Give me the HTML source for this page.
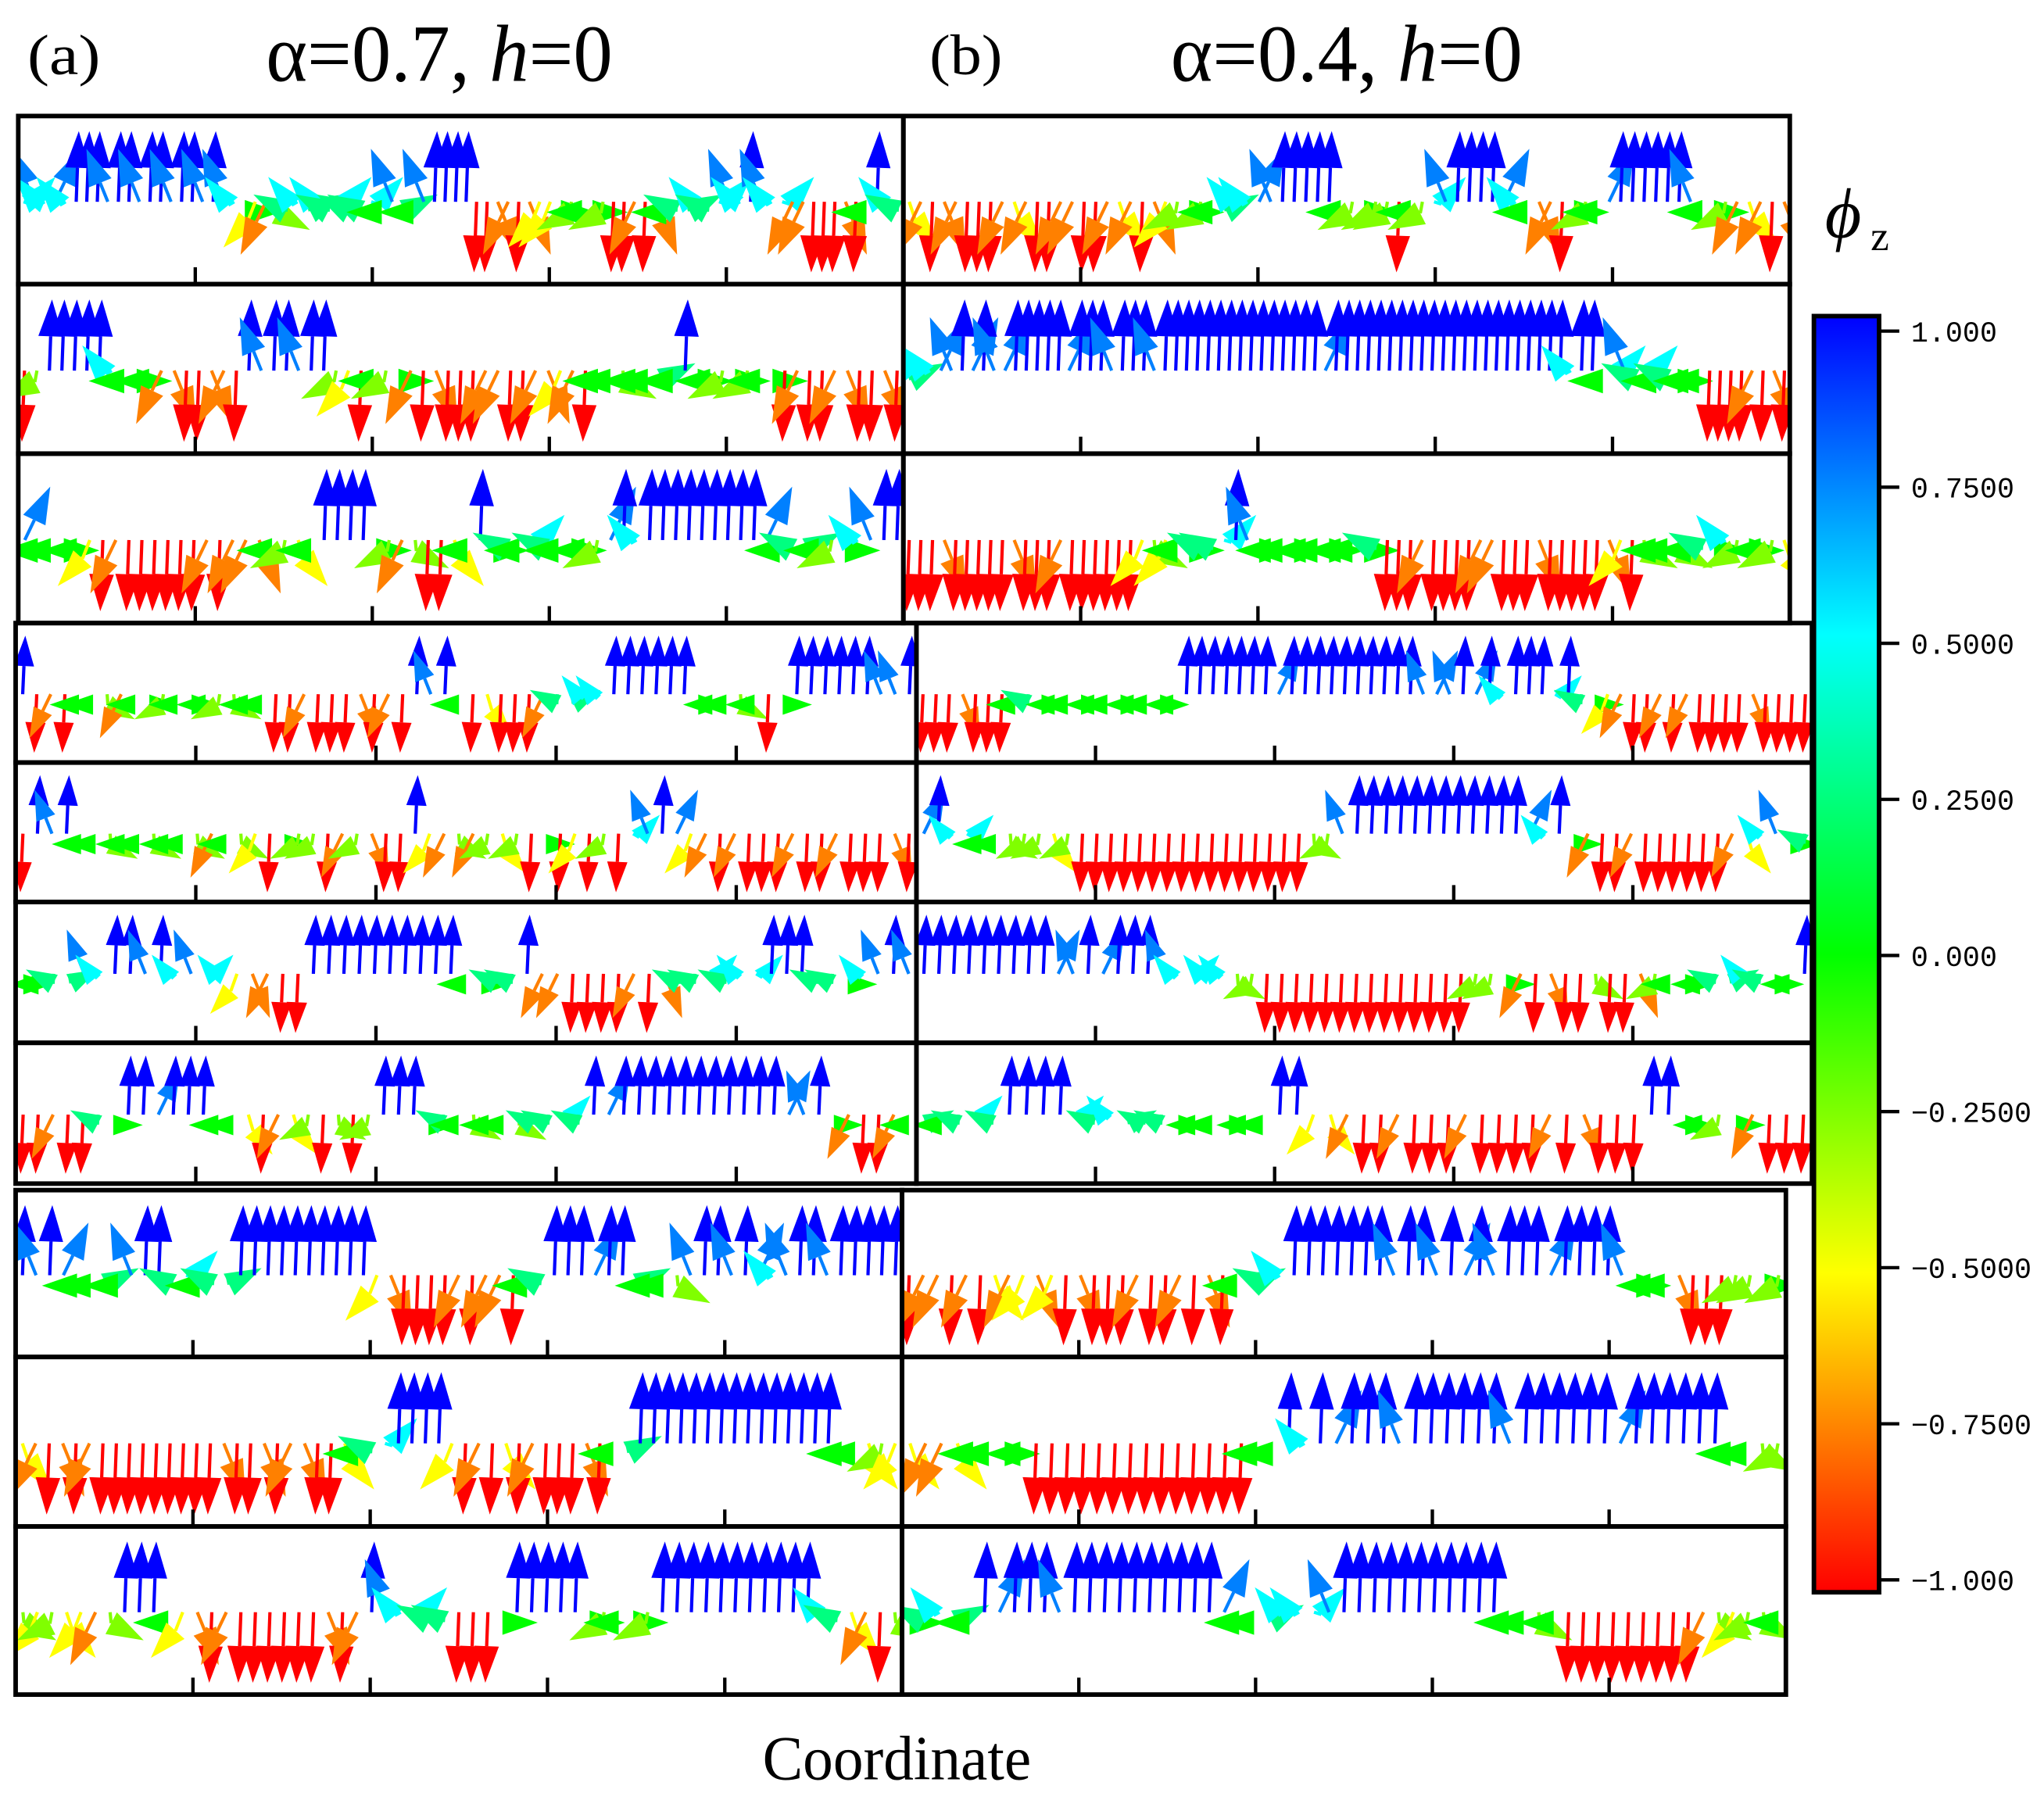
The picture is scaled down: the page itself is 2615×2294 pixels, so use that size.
<!DOCTYPE html>
<html><head><meta charset="utf-8">
<style>
html,body{margin:0;padding:0;background:#fff;}
svg{display:block;}
</style></head>
<body>
<svg id="fig" xmlns="http://www.w3.org/2000/svg" width="2615" height="2294" viewBox="0 0 1568 1375.5" preserveAspectRatio="none">
<defs>
<linearGradient id="jet" x1="0" y1="1" x2="0" y2="0">
<stop offset="0" stop-color="#ff0000"/>
<stop offset="0.25" stop-color="#ffff00"/>
<stop offset="0.5" stop-color="#00ff00"/>
<stop offset="0.75" stop-color="#00ffff"/>
<stop offset="1" stop-color="#0000ff"/>
</linearGradient>
</defs>
<g id="panels"></g>
<text x="21" y="57" font-family="Liberation Serif, serif" font-size="44" textLength="56" lengthAdjust="spacingAndGlyphs">(a)</text>
<text x="204" y="62" font-family="Liberation Serif, serif" font-size="62" textLength="266" lengthAdjust="spacingAndGlyphs">α=0.7, <tspan font-style="italic">h</tspan>=0</text>
<text x="713" y="57" font-family="Liberation Serif, serif" font-size="44" textLength="56" lengthAdjust="spacingAndGlyphs">(b)</text>
<text x="898" y="62" font-family="Liberation Serif, serif" font-size="62" textLength="270" lengthAdjust="spacingAndGlyphs">α=0.4, <tspan font-style="italic">h</tspan>=0</text>
<text x="585" y="1365" font-family="Liberation Serif, serif" font-size="48" textLength="206" lengthAdjust="spacingAndGlyphs">Coordinate</text>
<g>
<text x="1400" y="182" font-family="Liberation Serif, serif" font-size="54" font-style="italic">ϕ</text>
<text x="1435" y="192" font-family="Liberation Serif, serif" font-size="32">z</text>
</g>
<rect x="1391.5" y="242.5" width="50" height="979" fill="url(#jet)" stroke="#000" stroke-width="3.5"/>
<g id="cbticks"></g>
</svg>
<script>
// phi_z per spin, digits 0..8 -> (d-4)/4  (0 = -1 red, 4 = 0 green, 8 = +1 blue)
const spinsLeft = [
 "676768887887887887876421356565655647547888800110122434430010145565676876611000104865",
 "03888886444110011087887883204341010001100112104434454844343440100110010",
 "74444201000000101114324888843130024845465444378688888888874554346788",
 "8010443144344433440010001010878402000155668888884443404888888778",
 "08784434434431432043301310082131323040203067872101000100100010",
 "44557688786766211008888888888445581100001015565668885546787",
 "001005488788844201230303888454344355658788888888888778410014",
 "87874454788564558888888888210000101104588878854437887876788788888",
 "210101000000000100101100245688882010201000104588888888888888844232",
 "3232213888421010000001018766550004888884344388888888888652103"
];
const spinsRight = [
 "2101100012100110012101234345667788888434330436788887641104347888888744312101",
 "56677878778888878887888788888888888888878888888888888888888888688467564544400001010",
 "0001000001000100000023244556874444444444500010000110001000001203443454634432",
 "00010004544444444444888888878888888888777878688868542100101000010000",
 "78664433323000000000000000033788888888888876841001000000126745",
 "888888888778788876666330000000000000033410100300134445565448",
 "54565888865655544444488221001000100001010008844341000",
 "01101021212010001001010455688888887887878788878888744410003343",
 "21124444000000000000004486878887888888788888878888884433",
 "45654878887888888888874456667888888888884434000000000132334"
];
</script>
<script>
const NS = "http://www.w3.org/2000/svg";
const leftX = [[14,693],[14,693],[14,693],[12,703],[12,703],[12,703],[12,703],[12,692],[12,692],[12,692]];
const rightX = [[693,1373],[693,1373],[693,1373],[703,1390],[703,1390],[703,1390],[703,1390],[692,1370],[692,1370],[692,1370]];
const rowY = [[89,218],[218,348],[348,478],[478,585],[585,692],[692,800],[800,908],[913,1041],[1041,1171],[1171,1300]];
const panels = document.getElementById('panels');

function jet(z){
  const t = Math.max(0, Math.min(1, (z + 1) / 2));
  const stops = [[255,0,0],[255,255,0],[0,255,0],[0,255,255],[0,0,255]];
  const s = Math.min(3, Math.floor(t * 4)), f = t * 4 - s;
  const a = stops[s], b = stops[s+1];
  return 'rgb(' + [0,1,2].map(k => Math.round(a[k] + (b[k]-a[k]) * f)).join(',') + ')';
}
function parseSpins(str){
  const out = [];
  for (const ch of str) { if (ch >= '0' && ch <= '8') out.push((+ch - 4) / 4); }
  return out;
}
function drawPanel(xr, yr, str, name){
  const g = document.createElementNS(NS, 'g');
  
  
  const x0 = xr[0], x1 = xr[1], y0 = yr[0], y1 = yr[1];
  const W = x1 - x0, H = y1 - y0;
  const vals = parseSpins(str);
  const n = vals.length;
  const base = y0 + 0.51 * H;
  const L = 0.42 * H;
  const hw = 8 * H / 110, hl = 24 * H / 110;
  const clip = document.createElementNS(NS, 'clipPath');
  clip.setAttribute('id', 'c-' + name);
  const cr = document.createElementNS(NS, 'rect');
  cr.setAttribute('x', x0); cr.setAttribute('y', y0); cr.setAttribute('width', W); cr.setAttribute('height', H);
  clip.appendChild(cr);
  g.appendChild(clip);
  const arrows = document.createElementNS(NS, 'g');
  arrows.setAttribute('clip-path', 'url(#c-' + name + ')');
  
  
  vals.forEach((z, i) => {
    const x = x0 + (i + 0.5) * W / n;
    const sgn = (i % 3 === 0) ? 1 : -1;
    const dx = Math.sqrt(Math.max(0, 1 - z*z)) * L * 0.5 * sgn + z * 2;
    const dy = -z * L;
    const len = Math.hypot(dx, dy) || 1;
    const ux = dx / len, uy = dy / len;
    const tipx = x + dx, tipy = base + dy + (Math.abs(z) < 0.6 ? 8 : 0);
    const hlen = Math.min(hl, Math.max(len, 16));
    const bx = tipx - ux * hlen, by = tipy - uy * hlen;
    const col = jet(z);
    const grp = document.createElementNS(NS, 'g');
    
    
    if (len > hlen) {
      const sh = document.createElementNS(NS, 'line');
      
      
      sh.setAttribute('x1', x); sh.setAttribute('y1', base);
      sh.setAttribute('x2', bx); sh.setAttribute('y2', by);
      sh.setAttribute('stroke', col); sh.setAttribute('stroke-width', 2.5);
      grp.appendChild(sh);
    }
    const px = -uy, py = ux;
    const hd = document.createElementNS(NS, 'polygon');
    
    
    hd.setAttribute('points', `${tipx},${tipy} ${bx + px*hw},${by + py*hw} ${bx - px*hw},${by - py*hw}`);
    hd.setAttribute('fill', col);
    grp.appendChild(hd);
    arrows.appendChild(grp);
  });
  g.appendChild(arrows);
  [0.2,0.4,0.6,0.8].forEach(f => {
    const t = document.createElementNS(NS, 'line');
    
    
    const tx = x0 + f * W;
    t.setAttribute('x1', tx); t.setAttribute('x2', tx);
    t.setAttribute('y1', y1); t.setAttribute('y2', y1 - 13);
    t.setAttribute('stroke', '#000'); t.setAttribute('stroke-width', 2.6);
    g.appendChild(t);
  });
  const r = document.createElementNS(NS, 'rect');
  
  
  r.setAttribute('x', x0); r.setAttribute('y', y0);
  r.setAttribute('width', W); r.setAttribute('height', H);
  r.setAttribute('fill', 'none'); r.setAttribute('stroke', '#000'); r.setAttribute('stroke-width', 3.5);
  g.appendChild(r);
  panels.appendChild(g);
}
for (let k = 0; k < 10; k++) {
  drawPanel(leftX[k], rowY[k], spinsLeft[k], 'panel-a-row' + (k+1));
  drawPanel(rightX[k], rowY[k], spinsRight[k], 'panel-b-row' + (k+1));
}
const cbValues = [1, 0.75, 0.5, 0.25, 0, -0.25, -0.5, -0.75, -1];
const cbLabels = ["1.000", "0.7500", "0.5000", "0.2500", "0.000", "−0.2500", "−0.5000", "−0.7500", "−1.000"];
const cbt = document.getElementById('cbticks');
cbValues.forEach((v, i) => {
  const y = 254 + (1 - v) / 2 * 958;
  const t = document.createElementNS(NS, 'line');
  
  
  t.setAttribute('x1', 1443); t.setAttribute('x2', 1457);
  t.setAttribute('y1', y); t.setAttribute('y2', y);
  t.setAttribute('stroke', '#000'); t.setAttribute('stroke-width', 2.6);
  cbt.appendChild(t);
  const tx = document.createElementNS(NS, 'text');
  
  
  tx.setAttribute('x', 1466);
  tx.setAttribute('y', y + 8);
  tx.setAttribute('font-family', 'Liberation Mono, monospace');
  tx.setAttribute('font-size', 22);
  tx.textContent = cbLabels[i];
  cbt.appendChild(tx);
});
</script>
</body></html>
